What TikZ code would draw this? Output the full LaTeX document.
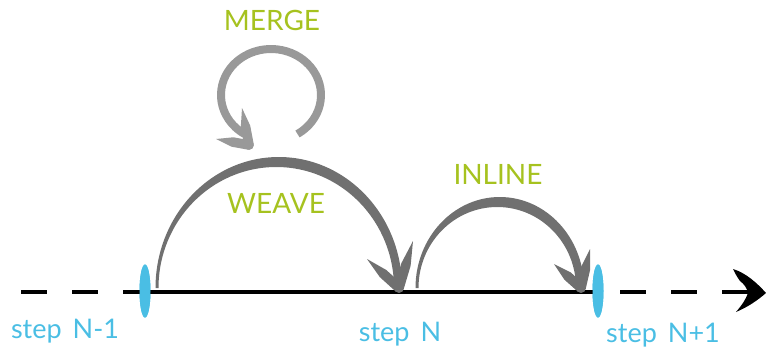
\documentclass[tikz,border=0pt]{standalone}
\usepackage{fontspec}
\setmainfont{Lato}
\usetikzlibrary{calc,shapes.geometric}
\definecolor{stepblue}{RGB}{74,190,228}
\definecolor{labelgreen}{RGB}{166,194,31}
\definecolor{arcgray}{RGB}{112,112,112}
\definecolor{loopgray}{RGB}{153,153,153}
\newcommand{\brusharm}[4][arcgray]{%
  \path ($(#3)!0.5!(#2)$) coordinate (armmid);
  \fill[#1] (#3) -- ($(armmid)!#4!90:(#2)$) -- ($(#2)!#4!-90:(armmid)$)
    -- ($(#2)!#4!90:(armmid)$) -- ($(armmid)!#4!-90:(#2)$) -- cycle;
  \fill[#1] (#2) circle[radius=#4];}
\begin{document}
\begin{tikzpicture}[x=1pt,y=-1pt,
  tick/.style={ellipse, fill=stepblue, draw=none, minimum width=11pt, minimum height=53pt, inner sep=0pt},
  axis/.style={line width=4pt, black},
  dashedaxis/.style={axis, dash pattern=on 26pt off 25pt},
  steplabel/.style={text=stepblue, font=\fontsize{27}{27}\selectfont, anchor=base, inner sep=0pt},
  oplabel/.style={text=labelgreen, font=\fontsize{28}{28}\selectfont, anchor=base, inner sep=0pt},
]
\useasboundingbox (0,0) rectangle (766,356);
% axis
\coordinate (start) at (21,292);
\coordinate (dashR) at (620,292);
\coordinate (dashEnd) at (748,292);
\node[tick] (prev) at (145,291) {};
\node[tick] (next) at (598,291) {};
\coordinate (stepN) at (400,292);
\draw[dashedaxis] (start) -- (start -| prev.center);
\draw[axis] (stepN -| prev.center) -- (stepN) -- (stepN -| next.center);
\draw[dashedaxis] (dashR) -- (dashEnd);
\node[tick] at (prev) {};
\node[tick] at (next) {};
% black arrow head
\fill[black] (766,293) .. controls (757,283) and (746,273) .. (733,269)
  .. controls (735,273) and (737,277) .. (740,281)
  .. controls (744,284) and (747,288) .. (748,293)
  .. controls (746,299) and (742,305) .. (736,312)
  .. controls (748,307) and (758,300) .. cycle;
% WEAVE arc
\coordinate (weaveTip) at (399,288);
\fill[arcgray] (155.5,288) arc[start angle=180,end angle=0,x radius=123.25pt,y radius=131pt]
  -- (394,288) arc[start angle=0,end angle=180,x radius=117.75pt,y radius=121pt] -- cycle;
\brusharm{weaveTip}{367,259}{4.8pt}
\brusharm{weaveTip}{413,241}{4.8pt}
% INLINE arc
\coordinate (inlineTip) at (581,288);
\fill[arcgray] (415.5,288) arc[start angle=180,end angle=0,x radius=84.25pt,y radius=91pt]
  -- (576,288) arc[start angle=0,end angle=180,x radius=78.75pt,y radius=81pt] -- cycle;
\brusharm{inlineTip}{554,264}{4.8pt}
\brusharm{inlineTip}{590,249}{4.8pt}
% MERGE loop
\coordinate (mc) at (271,95);
\coordinate (mergeTip) at (249,145);
\fill[loopgray] ($(mc)+(-58:54pt and 50pt)$) arc[start angle=-58,end angle=238,x radius=54pt,y radius=50pt]
  -- ($(mc)+(238:46pt and 42pt)$) arc[start angle=238,end angle=-58,x radius=46pt,y radius=42pt] -- cycle;
\brusharm[loopgray]{mergeTip}{216,139}{4.8pt}
\brusharm[loopgray]{mergeTip}{242,108}{4.8pt}
% labels
\node[oplabel] (merge) at (272,30) {MERGE};
\node[oplabel] (weave) at (276,213) {WEAVE};
\node[oplabel] (inline) at (498,184) {INLINE};
\node[steplabel] (lprev) at (65,338) {step\hspace{11pt}N-1};
\node[steplabel] (lcur) at (400,341) {step\hspace{11pt}N};
\node[steplabel] (lnext) at (663,342) {step\hspace{11pt}N+1};
\end{tikzpicture}
\end{document}
